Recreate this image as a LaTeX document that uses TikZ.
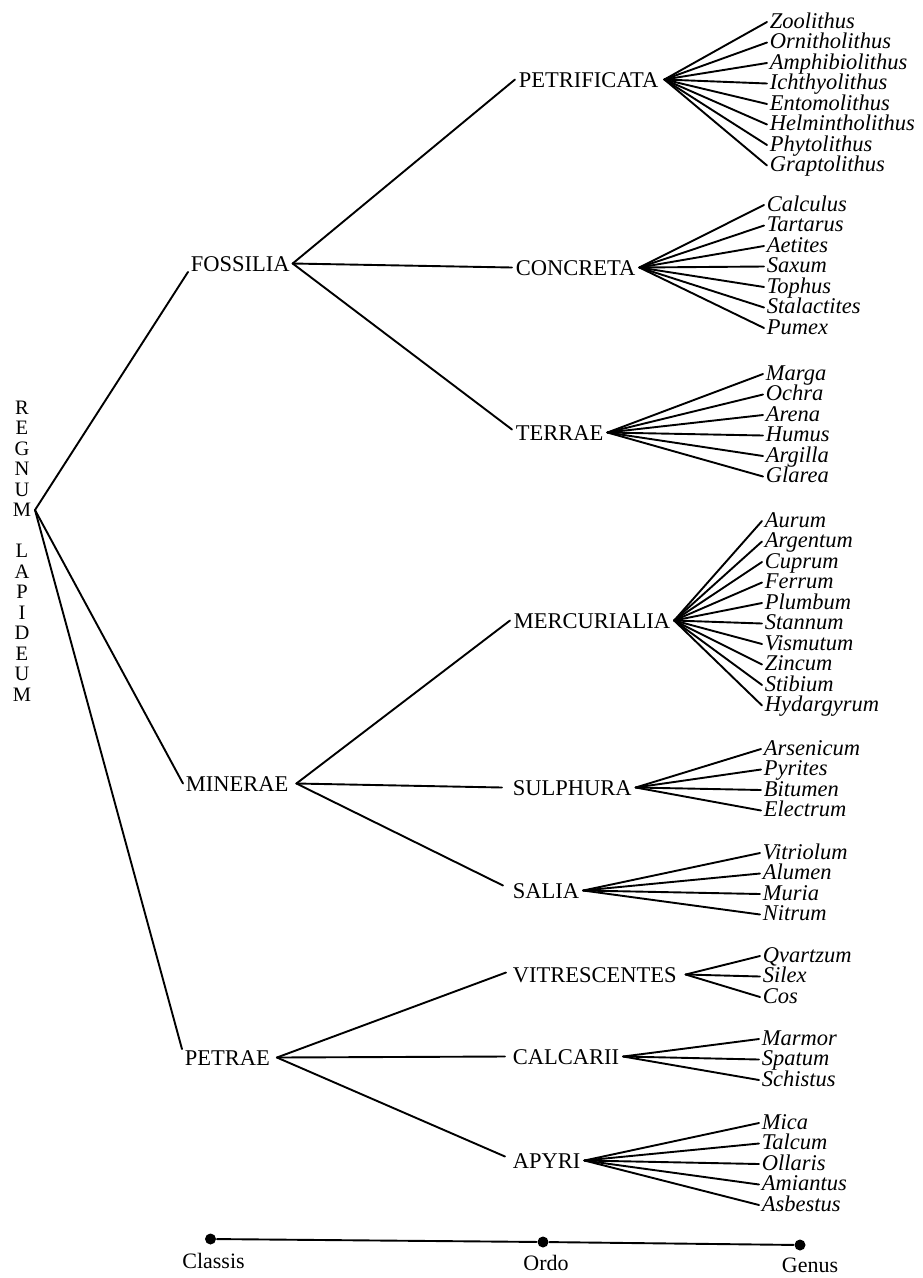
\documentclass[tikz,border=0pt]{standalone}
\usepackage{fontspec}
\setmainfont{Liberation Serif}
\begin{document}
\begin{tikzpicture}[x=1pt,y=-1pt,
  line width=1.9pt, line cap=round, line join=round,
  every node/.style={inner sep=0pt},
  classnode/.style={font=\fontsize{22.5}{22.5}\selectfont, inner xsep=2pt, inner ysep=0pt, text height=15pt, text depth=0pt, anchor=base west},
  ordonode/.style={classnode, inner xsep=3pt},
  genusnode/.style={font=\fontsize{22.5}{22.5}\selectfont\itshape, inner xsep=2pt, inner ysep=0pt, text height=14pt, text depth=2pt, anchor=base west},
  dotnode/.style={circle, fill=black, minimum size=11pt, inner sep=0pt},
  scalelabel/.style={font=\fontsize{22}{22}\selectfont, anchor=base},
]
\useasboundingbox (0,0) rectangle (922,1278);

% Regnum
\node[font=\fontsize{20.5}{20.5}\selectfont, align=center, anchor=north] (regnum) at (22,400)
  {R\\E\\G\\N\\U\\M\\[20.5pt]L\\A\\P\\I\\D\\E\\U\\M};
\coordinate (root) at (35,510);

% Classes
\node[classnode] (FOSSILIA) at (188,271) {FOSSILIA};
\node[classnode] (MINERAE) at (183,791) {MINERAE};
\node[classnode] (PETRAE) at (182,1065) {PETRAE};

\draw (root) -- (FOSSILIA.south west);
\draw (root) -- (MINERAE.west);
\draw (root) -- (PETRAE.north west);

% Ordines
\node[ordonode] (PETRIFICATA) at (515,87) {PETRIFICATA};
\node[ordonode] (CONCRETA) at (512,275) {CONCRETA};
\node[ordonode] (TERRAE) at (512,440) {TERRAE};
\node[ordonode] (MERCURIALIA) at (510,628) {MERCURIALIA};
\node[ordonode] (SULPHURA) at (509,795) {SULPHURA};
\node[ordonode] (SALIA) at (509,898) {SALIA};
\node[ordonode] (VITRESCENTES) at (509,982) {VITRESCENTES};
\node[ordonode] (CALCARII) at (509,1064) {CALCARII};
\node[ordonode] (APYRI) at (509,1168) {APYRI};

\draw (FOSSILIA.east) -- (PETRIFICATA.west);
\draw (FOSSILIA.east) -- (CONCRETA.west);
\draw (FOSSILIA.east) -- ([yshift=3pt]TERRAE.west);
\draw ([xshift=5pt]MINERAE.east) -- (MERCURIALIA.west);
\draw ([xshift=5pt]MINERAE.east) -- ([xshift=-7pt]SULPHURA.west);
\draw ([xshift=5pt]MINERAE.east) -- ([xshift=-6pt,yshift=5pt]SALIA.west);
\draw ([xshift=4pt]PETRAE.east) -- ([xshift=-3pt,yshift=2pt]VITRESCENTES.west);
\draw ([xshift=4pt]PETRAE.east) -- ([xshift=-4pt]CALCARII.west);
\draw ([xshift=4pt]PETRAE.east) -- ([xshift=-4pt,yshift=4pt]APYRI.west);

% Genera
\foreach \n/\y in {Zoolithus/28, Ornitholithus/48.5, Amphibiolithus/69, Ichthyolithus/89.5, Entomolithus/110, Helmintholithus/130.5, Phytolithus/151, Graptolithus/171.5}{
  \node[genusnode] (\n) at (767,\y) {\n};
  \draw ([xshift=2pt]PETRIFICATA.east) -- (\n.west);
}
\foreach \n/\y in {Calculus/211, Tartarus/231.5, Aetites/252, Saxum/272.5, Tophus/293, Stalactites/313.5, Pumex/334}{
  \node[genusnode] (\n) at (764,\y) {\n};
  \draw (CONCRETA.east) -- (\n.west);
}
\foreach \n/\y in {Marga/380, Ochra/400.5, Arena/421, Humus/441.5, Argilla/462, Glarea/482.5}{
  \node[genusnode] (\n) at (763,\y) {\n};
  \draw (TERRAE.east) -- (\n.west);
}
\foreach \n/\y in {Aurum/527, Argentum/547.5, Cuprum/568, Ferrum/588.5, Plumbum/609, Stannum/629.5, Vismutum/650, Zincum/670.5, Stibium/691, Hydargyrum/711.5}{
  \node[genusnode] (\n) at (762,\y) {\n};
  \draw (MERCURIALIA.east) -- (\n.west);
}
\foreach \n/\y in {Arsenicum/755, Pyrites/775.5, Bitumen/796, Electrum/816.5}{
  \node[genusnode] (\n) at (761,\y) {\n};
  \draw (SULPHURA.east) -- (\n.west);
}
\foreach \n/\y in {Vitriolum/859, Alumen/879.5, Muria/900, Nitrum/920.5}{
  \node[genusnode] (\n) at (760,\y) {\n};
  \draw (SALIA.east) -- (\n.west);
}
\foreach \n/\y in {Qvartzum/962, Silex/982.5, Cos/1003}{
  \node[genusnode] (\n) at (760,\y) {\n};
  \draw ([xshift=5pt]VITRESCENTES.east) -- (\n.west);
}
\foreach \n/\y in {Marmor/1045, Spatum/1065.5, Schistus/1086}{
  \node[genusnode] (\n) at (759,\y) {\n};
  \draw (CALCARII.east) -- (\n.west);
}
\foreach \n/\y in {Mica/1129, Talcum/1149.5, Ollaris/1170, Amiantus/1190.5, Asbestus/1211}{
  \node[genusnode] (\n) at (759,\y) {\n};
  \draw (APYRI.east) -- (\n.west);
}

% Scale
\node[dotnode] (dC) at (210.5,1239) {};
\node[dotnode] (dO) at (543,1242) {};
\node[dotnode] (dG) at (800,1245) {};
\draw (dC) -- (dO) -- (dG);
\node[scalelabel] (lC) at (213.5,1268) {Classis};
\node[scalelabel] (lO) at (546,1270) {Ordo};
\node[scalelabel] (lG) at (810,1272) {Genus};
\end{tikzpicture}
\end{document}
